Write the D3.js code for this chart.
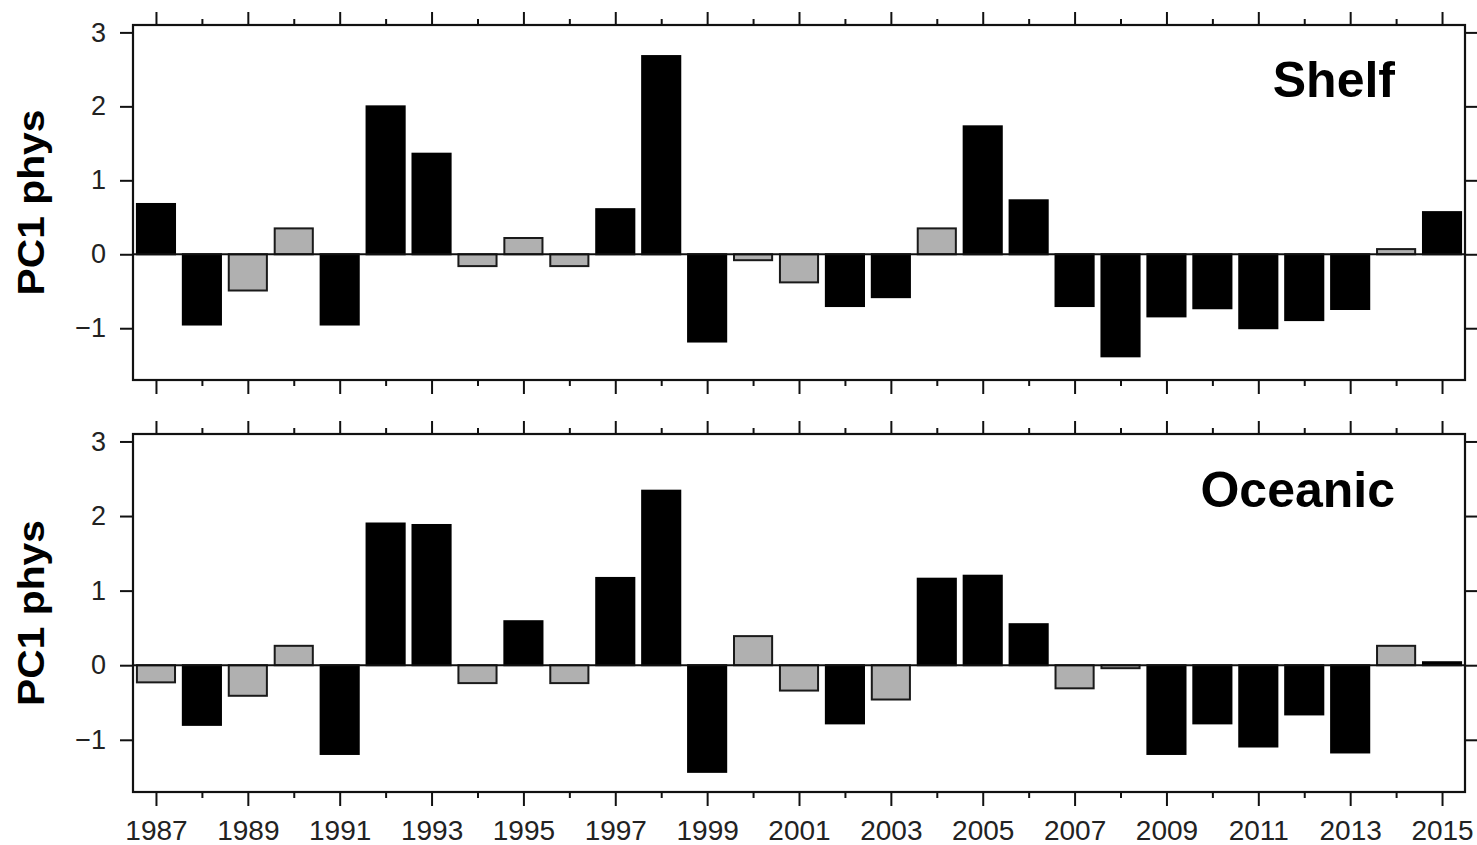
<!DOCTYPE html>
<html>
<head>
<meta charset="utf-8">
<script src="https://cdn.jsdelivr.net/npm/d3@7"></script>
<style>
  html, body { margin: 0; padding: 0; background: #fff; }
  svg { display: block; }
  text { font-family: Arial, "Liberation Sans", Helvetica, sans-serif; }
</style>
</head>
<body>
<svg id="chart" width="1477" height="845"></svg>
<script>
// Years shown on the x axis
const years = d3.range(1987, 2016);
const yTicks = [-1, 0, 1, 2, 3];

// First principal component of the physical variables, shelf region
const shelfValues = [0.68, -0.95, -0.49, 0.35, -0.95, 2.00, 1.36, -0.16, 0.22, -0.16,
  0.61, 2.68, -1.18, -0.08, -0.38, -0.70, -0.58, 0.35, 1.73, 0.73,
  -0.70, -1.38, -0.84, -0.73, -1.00, -0.89, -0.74, 0.07, 0.57];
// 1 = highlighted (black) year, 0 = grey year
const shelfFlags = [1, 1, 0, 0, 1, 1, 1, 0, 0, 0,
  1, 1, 1, 0, 0, 1, 1, 0, 1, 1,
  1, 1, 1, 1, 1, 1, 1, 0, 1];

// First principal component of the physical variables, oceanic region
const oceanicValues = [-0.23, -0.80, -0.41, 0.26, -1.19, 1.90, 1.88, -0.24, 0.59, -0.24,
  1.17, 2.34, -1.43, 0.39, -0.34, -0.78, -0.46, 1.16, 1.20, 0.55,
  -0.31, -0.04, -1.19, -0.78, -1.09, -0.66, -1.17, 0.26, 0.04];
const oceanicFlags = [0, 1, 0, 0, 1, 1, 1, 0, 1, 0,
  1, 1, 1, 0, 0, 1, 0, 1, 1, 1,
  0, 0, 1, 1, 1, 1, 1, 0, 1];

const panelLabels = ["Shelf", "Oceanic"];
const yLabel = "PC1 phys";

const svg = d3.select("#chart");
const left = 133, right = 1465;

const x = d3.scaleLinear().domain([1986.5, 2015.5]).range([left, right]);
const barW = (x(1) - x(0)) * 0.83;

const panels = [
  { top: 25, bottom: 380, values: shelfValues, flags: shelfFlags, label: panelLabels[0], labelY: 97 },
  { top: 434, bottom: 792, values: oceanicValues, flags: oceanicFlags, label: panelLabels[1], labelY: 507 }
];

const majorYears = years.filter(d => d % 2 === 1);
const minorYears = years.filter(d => d % 2 === 0);

panels.forEach((p, i) => {
  const y = d3.scaleLinear().domain([-1.7, 3.1]).range([p.bottom, p.top]);
  const g = svg.append("g");

  // bars
  const data = years.map((yr, k) => ({ year: yr, v: p.values[k], flag: p.flags[k] }));
  g.selectAll("rect.bar").data(data).join("rect")
    .attr("class", "bar")
    .attr("x", d => x(d.year) - barW / 2)
    .attr("width", barW)
    .attr("y", d => y(Math.max(0, d.v)))
    .attr("height", d => Math.abs(y(d.v) - y(0)))
    .attr("fill", d => d.flag ? "#000" : "#b0b0b0")
    .attr("stroke", d => d.flag ? "#000" : "#1a1a1a")
    .attr("stroke-width", 2);

  // zero line
  g.append("line")
    .attr("x1", left).attr("x2", right)
    .attr("y1", y(0)).attr("y2", y(0))
    .attr("stroke", "#111").attr("stroke-width", 2);

  // frame
  g.append("rect")
    .attr("x", left).attr("y", p.top)
    .attr("width", right - left).attr("height", p.bottom - p.top)
    .attr("fill", "none").attr("stroke", "#111").attr("stroke-width", 2.2);

  // y axes
  const yl = g.append("g").attr("transform", `translate(${left},0)`)
    .call(d3.axisLeft(y).tickValues(yTicks).tickSize(13).tickPadding(14)
      .tickFormat(d => d < 0 ? "\u2212" + Math.abs(d) : d));
  const yr = g.append("g").attr("transform", `translate(${right},0)`)
    .call(d3.axisRight(y).tickValues(yTicks).tickSize(13).tickFormat(""));

  // x axes: long ticks on odd years, short ticks on even years
  const xt1 = g.append("g").attr("transform", `translate(0,${p.top})`)
    .call(d3.axisTop(x).tickValues(majorYears).tickSize(13).tickFormat(""));
  const xt2 = g.append("g").attr("transform", `translate(0,${p.top})`)
    .call(d3.axisTop(x).tickValues(minorYears).tickSize(6).tickFormat(""));
  const xb1 = g.append("g").attr("transform", `translate(0,${p.bottom})`)
    .call(d3.axisBottom(x).tickValues(majorYears).tickSize(14).tickPadding(14)
      .tickFormat(i === 1 ? d3.format("d") : ""));
  const xb2 = g.append("g").attr("transform", `translate(0,${p.bottom})`)
    .call(d3.axisBottom(x).tickValues(minorYears).tickSize(6).tickFormat(""));

  [yl, yr, xt1, xt2, xb1, xb2].forEach(a => {
    a.select(".domain").remove();
    a.selectAll(".tick line").attr("stroke", "#111").attr("stroke-width", 2);
  });
  yl.selectAll(".tick text").attr("font-size", 27).attr("fill", "#222")
    .attr("font-family", "Arial, 'Liberation Sans', sans-serif");
  xb1.selectAll(".tick text").attr("font-size", 28).attr("fill", "#222")
    .attr("font-family", "Arial, 'Liberation Sans', sans-serif");

  // y axis title
  const cy = (p.top + p.bottom) / 2;
  g.append("text")
    .attr("transform", `translate(44,${cy}) rotate(-90)`)
    .attr("text-anchor", "middle")
    .attr("font-size", 37).attr("font-weight", "bold").attr("fill", "#000")
    .attr("textLength", 186).attr("lengthAdjust", "spacingAndGlyphs")
    .text(yLabel);

  // panel label
  g.append("text")
    .attr("x", 1395).attr("y", p.labelY)
    .attr("text-anchor", "end")
    .attr("font-size", 50).attr("font-weight", "bold").attr("fill", "#000")
    .text(p.label);
});
</script>
</body>
</html>
